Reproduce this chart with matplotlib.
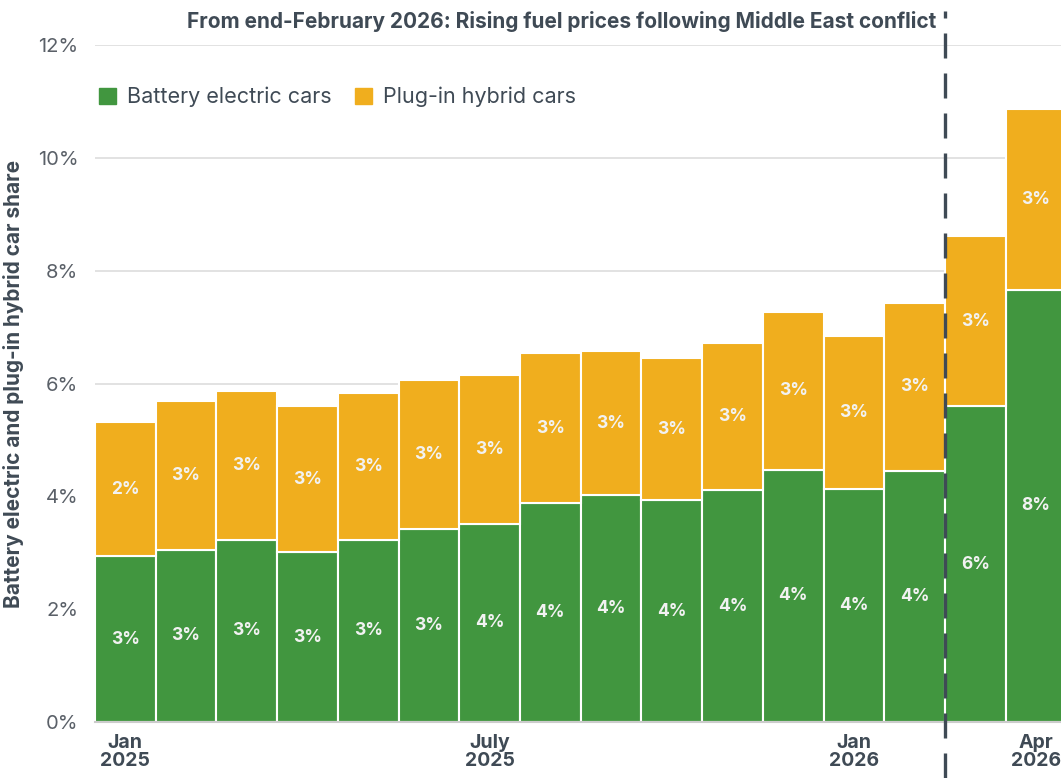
import matplotlib.pyplot as plt
from matplotlib.patches import Patch

plt.rcParams['font.family'] = ['Inter', 'DejaVu Sans']

months = ['Jan 2025', 'Feb 2025', 'Mar 2025', 'Apr 2025', 'May 2025', 'Jun 2025',
          'Jul 2025', 'Aug 2025', 'Sep 2025', 'Oct 2025', 'Nov 2025', 'Dec 2025',
          'Jan 2026', 'Feb 2026', 'Mar 2026', 'Apr 2026']
bev_share = [2.94, 3.05, 3.23, 3.01, 3.23, 3.42, 3.51, 3.88,
             4.02, 3.93, 4.11, 4.47, 4.13, 4.45, 5.60, 7.66]
phev_share = [2.38, 2.64, 2.64, 2.59, 2.60, 2.64, 2.64, 2.66,
              2.56, 2.52, 2.61, 2.80, 2.71, 2.98, 3.01, 3.20]
tick_idx = [0, 6, 12, 15]
tick_labels = ['Jan\n2025', 'July\n2025', 'Jan\n2026', 'Apr\n2026']
yticks = [0, 2, 4, 6, 8, 10, 12]

green = '#41963f'
orange = '#f0ae1e'
dark = '#3f4a55'
grey_text = '#5a6068'


def main():
    fig = plt.figure(figsize=(10.61, 7.78), dpi=100)
    ax = fig.add_axes([0.0895, 0.072, 0.9105, 0.870])

    x = list(range(len(months)))
    ax.bar(x, bev_share, width=1.0, color=green, edgecolor='white', linewidth=1.5, zorder=2)
    ax.bar(x, phev_share, width=1.0, bottom=bev_share, color=orange,
           edgecolor='white', linewidth=1.5, zorder=2)

    # value labels in the middle of each segment
    for i in x:
        ax.text(i, bev_share[i] / 2, f"{round(bev_share[i]):.0f}%", ha='center', va='center',
                color='#f2f2f2', fontsize=12.5, fontweight='bold', zorder=3)
        ax.text(i, bev_share[i] + phev_share[i] / 2, f"{round(phev_share[i]):.0f}%",
                ha='center', va='center', color='#f2f2f2', fontsize=12.5,
                fontweight='bold', zorder=3)

    ax.set_xlim(-0.5, 15.41)
    ax.set_ylim(0, 12)
    ax.set_yticks(yticks)
    ax.set_yticklabels([f"{v}%" for v in yticks], fontsize=14.5, color=grey_text)
    ax.set_xticks(tick_idx)
    ax.set_xticklabels(tick_labels, fontsize=14, fontweight='bold', color=dark,
                       linespacing=1.0)
    ax.tick_params(axis='both', length=0)
    ax.tick_params(axis='y', pad=12)
    ax.tick_params(axis='x', pad=9)
    ax.grid(axis='y', color='#dddddd', linewidth=1.2, zorder=0)
    for side in ['top', 'right', 'left']:
        ax.spines[side].set_visible(False)
    ax.spines['bottom'].set_color('#cccccc')
    ax.spines['bottom'].set_linewidth(1.5)
    ax.spines['bottom'].set_zorder(4)

    # dashed divider between Feb and Mar 2026
    ax.plot([13.5, 13.5], [-1.0, 12.6], color=dark, linewidth=2.4,
            linestyle=(0, (7.5, 4.5)), clip_on=False, zorder=5)
    ax.text(13.35, 12.42, 'From end-February 2026: Rising fuel prices following Middle East conflict',
            ha='right', va='center', fontsize=15, fontweight='bold', color=dark)

    ax.set_ylabel('Battery electric and plug-in hybrid car share', fontsize=15,
                  fontweight='bold', color=dark, labelpad=10)

    handles = [Patch(color=green, label='Battery electric cars'),
               Patch(color=orange, label='Plug-in hybrid cars')]
    ax.legend(handles=handles, loc='center left', bbox_to_anchor=(-0.016, 0.923), ncol=2,
              frameon=False, fontsize=15.5, handlelength=0.8, handleheight=0.8,
              handletextpad=0.5, columnspacing=1.1, labelcolor=dark)

    fig.savefig('out.png', dpi=100)


if __name__ == "__main__":
    main()
